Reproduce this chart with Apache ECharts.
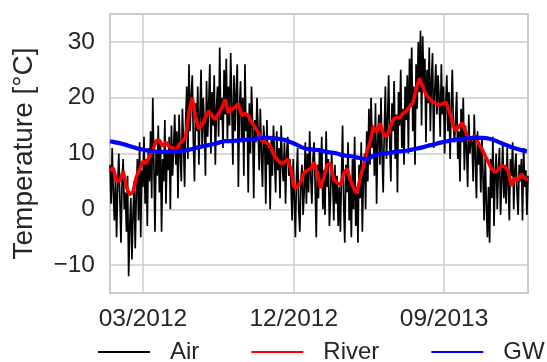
<!DOCTYPE html>
<html>
<head>
<meta charset="utf-8">
<script src="https://cdn.jsdelivr.net/npm/echarts@6/dist/echarts.min.js"></script>
<style>
  html, body { margin: 0; padding: 0; background: #ffffff; }
  #chart { width: 547px; height: 362px; }
</style>
</head>
<body>
<div id="chart"></div>
<script>
// Daily temperature record, Jan 2012 – Feb 2014
const DAY_MS = 86400000;
const startDate = Date.UTC(2012, 0, 1);
const endDate = Date.UTC(2014, 1, 1);

// Air temperature, one value every 2 days from startDate (15 values per row ≈ one month)
const airStepDays = 2;
const airTemp = [
  8, 1, 11, 3, -2, 6, -5, 4, 10, 2, -6, 5, 9, 0, 3,
  -4, 6, -12, -3, 2, -9, -1, 5, -7, 3, 9, -2, 12, -5, 7,
  4, 13, 1, 9, -3, 11, 5, 14, 2, 20, 8, -4, 10, 6, 15,
  3, 12, -4, 9, 5, 16, 1, 10, 7, 13, 0, 15, 6, 11, 17,
  8, 14, 2, 17, 10, 5, 18, 12, 4, 16, 22, 9, 26, 14, 20,
  24, 12, 5, 19, 14, 22, 8, 17, 25, 11, 20, 15, 6, 23, 13,
  19, 26, 10, 21, 15, 24, 8, 18, 22, 13, 29, 16, 20, 11, 25,
  17, 27, 12, 22, 15, 28, 19, 8, 24, 14, 21, 26, 4, 18, 23,
  12, 20, 6, 26, 14, 17, 3, 19, 10, 22, 15, 2, 16, 12, 20,
  14, 7, 18, 10, 4, 15, 12, 1, 16, 8, 11, 0, 13, 6, 15,
  9, 3, 14, 7, 11, 2, 15, 8, 5, 12, 1, 10, 13, 6, 9,
  4, -2, 9, 2, -5, 6, 11, 0, -4, 5, 8, -1, 3, 12, 1,
  10, 3, 14, 6, 1, 9, 12, 4, -5, 8, 2, 11, 5, 13, 0,
  7, -1, 14, 4, 9, -3, 2, 10, 5, -2, 8, 1, 6, -3, 4,
  -4, 6, 15, 1, -6, 8, 3, 12, -2, 5, -5, 9, 0, 13, -3,
  4, -6, 8, 2, 12, -4, 6, 10, 0, 14, 5, 18, 8, 20, 11,
  15, 6, 19, 1, 12, 17, 8, 20, 10, 3, 14, 22, 9, 16, 24,
  12, 5, 19, 14, 23, 9, 17, 3, 21, 15, 25, 11, 18, 8, 22,
  16, 24, 10, 27, 19, 29, 14, 22, 8, 26, 18, 30, 21, 32, 15,
  31, 22, 27, 12, 25, 19, 29, 14, 23, 28, 11, 21, 26, 17, 24,
  20, 13, 26, 17, 22, 10, 19, 24, 14, 21, 9, 18, 25, 15, 12,
  16, 21, 9, 14, 5, 18, 12, 20, 7, 15, 11, 4, 17, 10, 13,
  12, 5, 17, 9, 2, 14, 8, 11, 3, 13, 6, -2, 10, 1, -5,
  4, -6, 9, 2, 13, -3, 6, 10, 0, 7, 11, -1, 5, 12, 2,
  8, 1, 11, 4, -2, 9, 6, 12, 0, 7, 10, 3, -1, 8, 5,
  9, -2, 11, 4, 7, -1, 6
];

// River water temperature, one value every 6 days
const riverStepDays = 6;
const riverTemp = [
  7.0, 7.4, 5.0, 5.2, 6.8, 4.0, 2.6, 3.2, 5.8, 7.2,
  8.6, 8.2, 9.5, 10.5, 12.3, 12.4, 11.3, 12.0, 11.2, 11.0,
  10.4, 11.6, 12.2, 13.0, 17.5, 20.0, 16.5, 14.4, 15.2, 16.4,
  17.6, 16.8, 16.1, 17.2, 18.2, 19.7, 17.3, 18.0, 18.3, 18.9,
  16.8, 17.2, 16.8, 15.6, 14.8, 13.8, 12.4, 12.0, 11.8, 11.0,
  9.5, 8.8, 8.2, 8.4, 9.0, 7.0, 3.9, 4.0, 5.0, 6.6,
  7.0, 7.3, 8.4, 6.5, 3.8, 5.8, 8.0, 8.2, 5.3, 4.8,
  4.3, 6.4, 7.3, 5.3, 3.8, 2.8, 5.6, 7.8, 10.2, 12.0,
  14.8, 13.8, 15.4, 13.6, 13.0, 14.5, 16.0, 16.4, 16.4, 17.2,
  17.6, 18.4, 19.0, 21.5, 23.5, 22.0, 20.6, 19.8, 19.3, 19.0,
  18.7, 18.9, 19.2, 17.8, 15.6, 14.0, 14.8, 15.5, 14.0, 12.4,
  12.8, 13.2, 11.8, 10.8, 9.6, 8.4, 7.2, 6.6, 7.2, 7.8,
  7.6, 6.8, 4.2, 5.6, 5.2, 6.3, 5.6, 5.3
];

// Groundwater temperature, one value every 10 days
const gwStepDays = 10;
const gwTemp = [
  12.2, 12.0, 11.8, 11.5, 11.2, 10.9, 10.7, 10.5, 10.4, 10.3,
  10.3, 10.3, 10.4, 10.4, 10.6, 10.8, 11.1, 11.3, 11.5, 11.7,
  12.0, 12.2, 12.2, 12.3, 12.4, 12.5, 12.6, 12.7, 12.8, 12.8,
  12.7, 12.6, 12.4, 12.0, 11.6, 11.1, 10.8, 10.7, 10.6, 10.4,
  10.2, 10.1, 9.8, 9.6, 9.5, 9.3, 9.1, 9.0, 9.6, 9.9,
  10.0, 10.1, 10.3, 10.4, 10.5, 10.7, 10.9, 11.1, 11.4, 11.6,
  11.9, 12.1, 12.3, 12.5, 12.6, 12.7, 12.8, 12.8, 12.8, 12.7,
  12.4, 12.0, 11.6, 11.2, 10.9, 10.6, 10.4
];

const seriesNames = ['Air', 'River', 'GW'];
const xTickDates = [Date.UTC(2012, 2, 1), Date.UTC(2012, 11, 1), Date.UTC(2013, 8, 1)];
const yTicks = [-10, 0, 10, 20, 30];

function toPairs(values, stepDays) {
  return values.map((v, i) => [startDate + i * stepDays * DAY_MS, v]);
}

function formatMonth(ts) {
  const d = new Date(ts);
  const m = d.getUTCMonth() + 1;
  return (m < 10 ? '0' + m : '' + m) + '/' + d.getUTCFullYear();
}

const textColor = '#262626';
const fontFamily = '"Liberation Sans", Arial, sans-serif';
const gridColor = '#cccccc';
const tickFontSize = 24.5;

const chart = echarts.init(document.getElementById('chart'), null, { renderer: 'canvas' });

chart.setOption({
  animation: false,
  backgroundColor: '#ffffff',
  textStyle: { fontFamily: fontFamily, color: textColor },
  grid: {
    left: 110, right: 19, top: 14, bottom: 69,
    show: true,
    backgroundColor: '#ffffff',
    borderColor: gridColor,
    borderWidth: 2
  },
  legend: {
    data: seriesNames,
    left: 92,
    top: 335,
    width: 700,
    itemWidth: 52,
    itemHeight: 14,
    itemGap: 51,
    itemStyle: { opacity: 0 },
    textStyle: {
      fontFamily: fontFamily,
      fontSize: 24,
      color: textColor,
      padding: [0, 0, 0, 15]
    }
  },
  xAxis: {
    type: 'value',
    min: startDate,
    max: endDate,
    axisLine: { show: false },
    axisTick: { show: false, customValues: xTickDates },
    axisLabel: {
      customValues: xTickDates,
      formatter: function (v) { return formatMonth(v); },
      fontFamily: fontFamily,
      fontSize: tickFontSize,
      color: textColor,
      margin: 14
    },
    splitLine: { show: true, lineStyle: { color: gridColor, width: 1.5 } }
  },
  yAxis: {
    type: 'value',
    min: -15,
    max: 35,
    name: 'Temperature [°C]',
    nameLocation: 'middle',
    nameGap: 72,
    nameTextStyle: { fontFamily: fontFamily, fontSize: 28, color: textColor },
    axisLine: { show: false },
    axisTick: { show: false, customValues: yTicks },
    axisLabel: {
      customValues: yTicks,
      fontFamily: fontFamily,
      fontSize: tickFontSize,
      color: textColor,
      margin: 15,
      formatter: function (v) { return v < 0 ? '\u2212' + Math.abs(v) : '' + v; }
    },
    splitLine: { show: true, lineStyle: { color: gridColor, width: 1.5 } }
  },
  series: [
    {
      name: 'Air',
      type: 'line',
      data: toPairs(airTemp, airStepDays),
      symbol: 'none',
      lineStyle: { color: '#000000', width: 1.7 },
      itemStyle: { color: '#000000' },
      z: 2
    },
    {
      name: 'River',
      type: 'line',
      data: toPairs(riverTemp, riverStepDays),
      symbol: 'none',
      lineStyle: { color: '#ff0000', width: 3.5 },
      itemStyle: { color: '#ff0000' },
      z: 3
    },
    {
      name: 'GW',
      type: 'line',
      data: toPairs(gwTemp, gwStepDays),
      symbol: 'none',
      smooth: 0.3,
      lineStyle: { color: '#0000ff', width: 4.2 },
      itemStyle: { color: '#0000ff' },
      z: 4
    }
  ]
});
</script>
</body>
</html>
